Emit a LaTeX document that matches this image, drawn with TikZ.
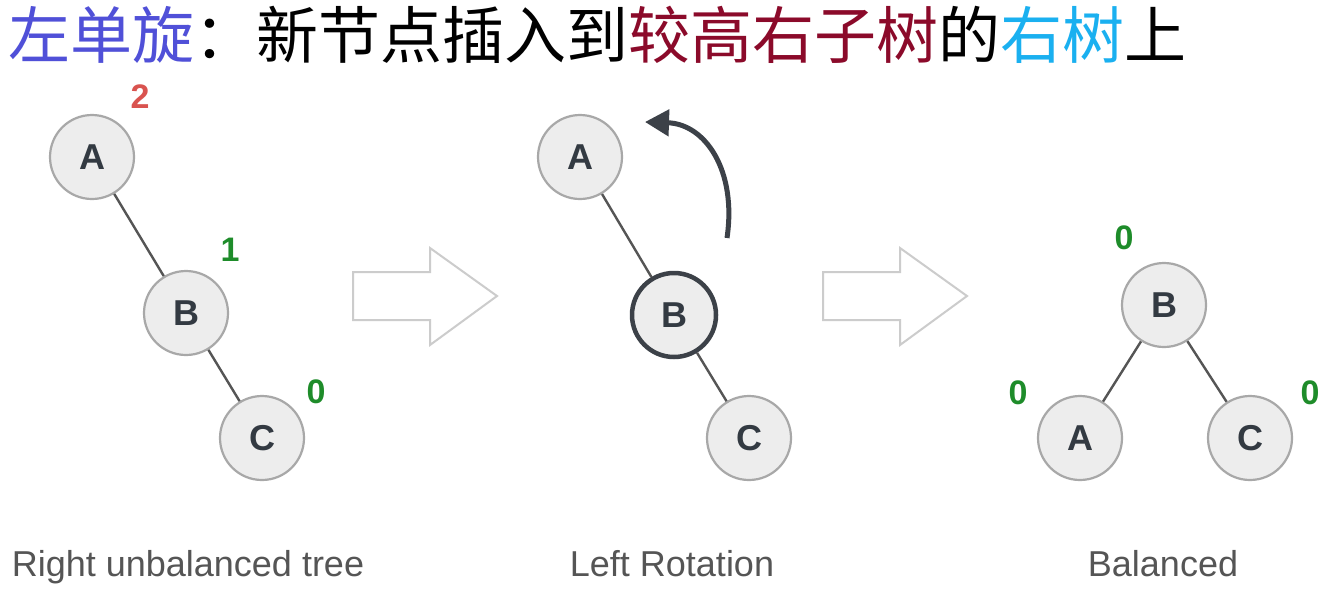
\documentclass[tikz,border=0pt]{standalone}
\usepackage{fontspec}
\newfontfamily\cjk{Noto Sans CJK SC}
\newfontfamily\hel{Liberation Sans}
\definecolor{tpurple}{HTML}{5050D8}
\definecolor{tred}{HTML}{8B0A2A}
\definecolor{tblue}{HTML}{1AB0F0}
\definecolor{nodefill}{HTML}{EDEDED}
\definecolor{nodegray}{HTML}{A8A8A8}
\definecolor{lettergray}{HTML}{333A42}
\definecolor{edgegray}{HTML}{555555}
\definecolor{blockgray}{HTML}{CCCCCC}
\definecolor{capgray}{HTML}{555555}
\definecolor{balred}{HTML}{D9534F}
\definecolor{balgreen}{HTML}{1E8C2A}
\definecolor{rotgray}{HTML}{3C4148}
\usetikzlibrary{arrows.meta}
\begin{document}
\begin{tikzpicture}[x=1pt,y=-1pt,
  tn/.style={circle, draw=nodegray, line width=2.2pt, fill=nodefill, minimum size=84pt, inner sep=0pt,
    font=\hel\bfseries\fontsize{36}{36}\selectfont, text=lettergray},
  tnbold/.style={tn, draw=rotgray, line width=4.5pt},
  bal/.style={font=\hel\bfseries\fontsize{34}{34}\selectfont, inner sep=0pt},
  edge/.style={draw=edgegray, line width=2.4pt},
  blockarr/.style={draw=blockgray, line width=2pt, fill=white, line join=miter},
  captext/.style={font=\hel\fontsize{36}{36}\selectfont, text=capgray, inner sep=0pt, anchor=base},
  rot/.style={draw=rotgray, line width=5pt, -{Triangle[length=24pt,width=26pt]}}
]
\fill[white] (0,0) rectangle (1340,608);
\useasboundingbox (0,0) rectangle (1340,608);

% title
\node[anchor=base west, inner sep=0pt, font=\cjk\fontsize{62}{62}\selectfont] (title) at (8,58)
  {\color{tpurple}左单旋\color{black}：新节点插入到\color{tred}较高右子树\color{black}的\color{tblue}右树\color{black}上};

% tree 1
\node[tn] (a1) at (92,157) {A};
\node[tn] (b1) at (186,313) {B};
\node[tn] (c1) at (262,438) {C};
\draw[edge] (a1) -- (b1);
\draw[edge] (b1) -- (c1);
\node[bal, text=balred] (n2) at (140,97) {2};
\node[bal, text=balgreen] (n1) at (230,250) {1};
\node[bal, text=balgreen] (n0) at (316,392) {0};

% block arrows
\draw[blockarr] (353,272) -- (430,272) -- (430,248) -- (497,296) -- (430,345) -- (430,320) -- (353,320) -- cycle;
\draw[blockarr] (823,272) -- (900,272) -- (900,248) -- (967,296) -- (900,345) -- (900,320) -- (823,320) -- cycle;

% tree 2
\node[tn] (a2) at (580,157) {A};
\node[tnbold] (b2) at (674,315) {B};
\node[tn] (c2) at (749,438) {C};
\draw[edge] (a2) -- (b2);
\draw[edge] (b2) -- (c2);
\coordinate (r1) at (727,238);
\coordinate (r2) at (645,122);
\draw[rot] (r1) .. controls (737,170) and (705,124) .. (r2);

% tree 3
\node[tn] (b3) at (1164,305) {B};
\node[tn] (a3) at (1080,438) {A};
\node[tn] (c3) at (1250,438) {C};
\draw[edge] (b3) -- (a3);
\draw[edge] (b3) -- (c3);
\node[bal, text=balgreen] (m0) at (1124,238) {0};
\node[bal, text=balgreen] (l0) at (1018,393) {0};
\node[bal, text=balgreen] (r0) at (1310,393) {0};

% captions
\node[captext] (cap1) at (188,576) {Right unbalanced tree};
\node[captext] (cap2) at (672,576) {Left Rotation};
\node[captext] (cap3) at (1163,576) {Balanced};
\end{tikzpicture}
\end{document}
